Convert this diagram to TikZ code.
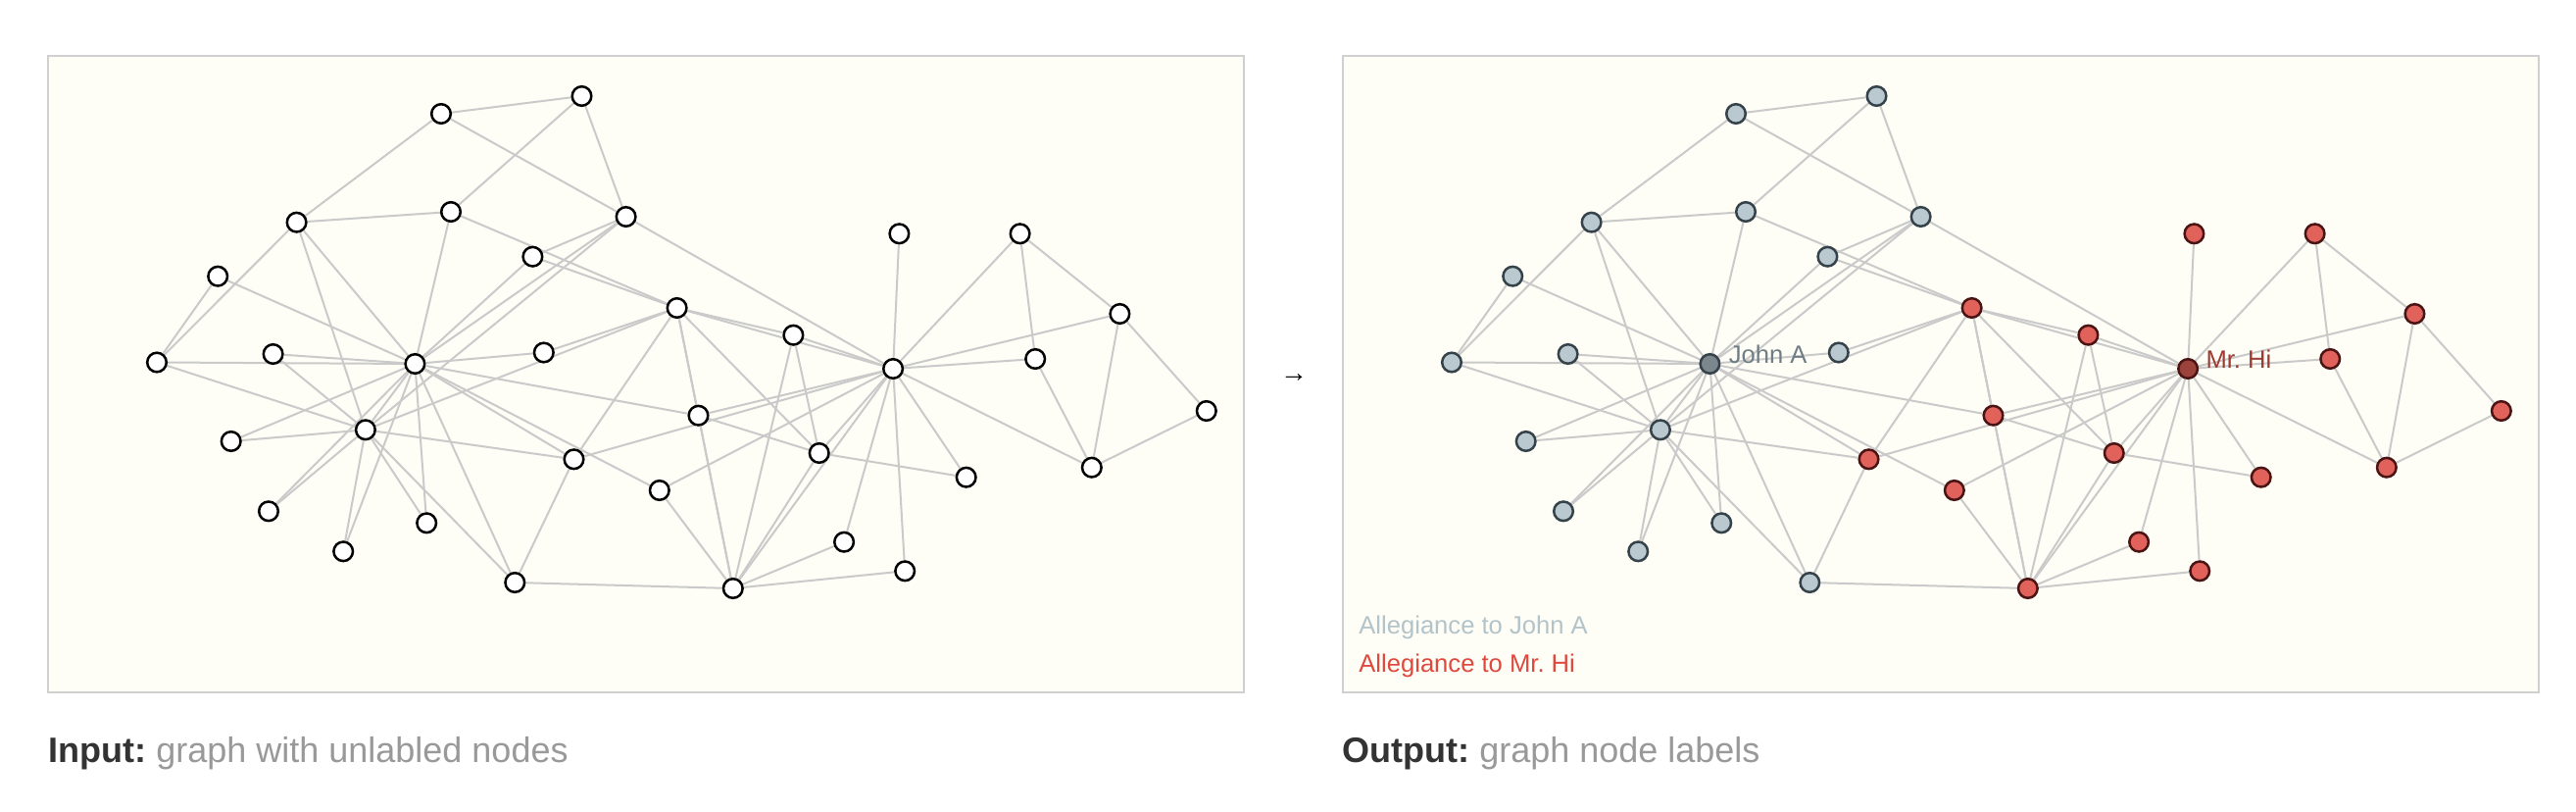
\documentclass[tikz,border=0pt]{standalone}
\usepackage{fontspec}
\setmainfont{Liberation Sans}
\usetikzlibrary{backgrounds}
\frenchspacing
\definecolor{panelbg}{RGB}{254,254,246}
\definecolor{panelline}{RGB}{208,208,208}
\definecolor{edgegray}{RGB}{202,202,202}
\definecolor{johnfill}{RGB}{185,201,207}
\definecolor{johnline}{RGB}{54,66,74}
\definecolor{johnhub}{RGB}{123,135,140}
\definecolor{johntext}{RGB}{111,125,132}
\definecolor{hifill}{RGB}{224,98,90}
\definecolor{hiline}{RGB}{74,20,20}
\definecolor{hihub}{RGB}{155,67,59}
\definecolor{hitext}{RGB}{155,59,51}
\definecolor{legjohn}{RGB}{179,195,202}
\definecolor{leghi}{RGB}{224,72,62}
\definecolor{capdark}{RGB}{51,51,51}
\definecolor{capgray}{RGB}{153,153,153}
\tikzset{
  vtx/.style={circle, inner sep=0pt, minimum size=9.8pt, line width=1.25pt, draw=black, fill=white},
  john/.style={vtx, draw=johnline, fill=johnfill},
  hi/.style={vtx, draw=hiline, fill=hifill},
  link/.style={draw=edgegray, line width=1pt},
  panel/.style={draw=panelline, fill=panelbg, line width=1.2pt},
  lbl/.style={anchor=base west, inner sep=0pt, font=\fontsize{12.8}{15}\selectfont},
  caption/.style={anchor=base west, inner sep=0pt, font=\fontsize{18}{21}\selectfont}
}
\begin{document}
\begin{tikzpicture}[x=0.5pt, y=-0.5pt]
\useasboundingbox (0,0) rectangle (2628,828);
\begin{scope}[on background layer]
\fill[white] (0,0) rectangle (2628,828);
\path[panel] (49,57) rectangle (1269,706);
\path[panel] (1370,57) rectangle (2590,706);
\end{scope}

% input graph
\node[vtx] (in1) at (911.1,376){};
\node[vtx] (in2) at (747.8,600){};
\node[vtx] (in3) at (690.6,314){};
\node[vtx] (in4) at (835.7,462){};
\node[vtx] (in5) at (1040.6,238.3){};
\node[vtx] (in6) at (1113.8,476.7){};
\node[vtx] (in7) at (1142.4,320){};
\node[vtx] (in8) at (809.4,341.7){};
\node[vtx] (in9) at (585.5,468.3){};
\node[vtx] (in10) at (554.8,359.5){};
\node[vtx] (in11) at (1056.2,366){};
\node[vtx] (in12) at (917.4,238.3){};
\node[vtx] (in13) at (985.7,486.7){};
\node[vtx] (in14) at (712.5,423.7){};
\node[vtx] (in15) at (278.6,361){};
\node[vtx] (in16) at (235.7,450){};
\node[vtx] (in17) at (1230.8,419){};
\node[vtx] (in18) at (861.1,552.7){};
\node[vtx] (in19) at (274,521.3){};
\node[vtx] (in20) at (672.8,500){};
\node[vtx] (in21) at (350.2,562.3){};
\node[vtx] (in22) at (923.2,582.3){};
\node[vtx] (in23) at (435.2,533.3){};
\node[vtx] (in24) at (302.6,226.7){};
\node[vtx] (in25) at (593.5,98){};
\node[vtx] (in26) at (450,116){};
\node[vtx] (in27) at (222.2,281.7){};
\node[vtx] (in28) at (460,216){};
\node[vtx] (in29) at (543.4,261.7){};
\node[vtx] (in30) at (160,369.5){};
\node[vtx] (in31) at (525.3,594){};
\node[vtx] (in32) at (638.6,221){};
\node[vtx] (in33) at (372.9,438.3){};
\node[vtx] (in34) at (423.4,371){};

% output graph
\node[hi, fill=hihub] (out1) at (2232.1,376){};
\node[hi] (out2) at (2068.8,600){};
\node[hi] (out3) at (2011.6,314){};
\node[hi] (out4) at (2156.7,462){};
\node[hi] (out5) at (2361.6,238.3){};
\node[hi] (out6) at (2434.8,476.7){};
\node[hi] (out7) at (2463.4,320){};
\node[hi] (out8) at (2130.4,341.7){};
\node[hi] (out9) at (1906.5,468.3){};
\node[john] (out10) at (1875.8,359.5){};
\node[hi] (out11) at (2377.2,366){};
\node[hi] (out12) at (2238.4,238.3){};
\node[hi] (out13) at (2306.7,486.7){};
\node[hi] (out14) at (2033.5,423.7){};
\node[john] (out15) at (1599.6,361){};
\node[john] (out16) at (1556.7,450){};
\node[hi] (out17) at (2551.8,419){};
\node[hi] (out18) at (2182.1,552.7){};
\node[john] (out19) at (1595,521.3){};
\node[hi] (out20) at (1993.8,500){};
\node[john] (out21) at (1671.2,562.3){};
\node[hi] (out22) at (2244.2,582.3){};
\node[john] (out23) at (1756.2,533.3){};
\node[john] (out24) at (1623.6,226.7){};
\node[john] (out25) at (1914.5,98){};
\node[john] (out26) at (1771,116){};
\node[john] (out27) at (1543.2,281.7){};
\node[john] (out28) at (1781,216){};
\node[john] (out29) at (1864.4,261.7){};
\node[john] (out30) at (1481,369.5){};
\node[john] (out31) at (1846.3,594){};
\node[john] (out32) at (1959.6,221){};
\node[john] (out33) at (1693.9,438.3){};
\node[john, fill=johnhub] (out34) at (1744.4,371){};

\node[lbl, text=johntext] (namejohn) at ([xshift=9.5pt]out34.center) {John A};
\node[lbl, text=hitext] (namehi) at ([xshift=9pt]out1.center) {Mr. Hi};
\node[lbl, text=legjohn] (legjohn) at (1386,646.7) {Allegiance to John A};
\node[lbl, text=leghi] (leghi) at (1386,685) {Allegiance to Mr. Hi};

\node[font=\fontsize{14}{16}\selectfont, inner sep=0pt] (arrow) at (1320,386) {→};
\node[caption] (capin) at (49,777.3) {\textcolor{capdark}{\bfseries Input:} \textcolor{capgray}{graph with unlabled nodes}};
\node[caption] (capout) at (1369,777.3) {\textcolor{capdark}{\bfseries Output:} \textcolor{capgray}{graph node labels}};

\begin{scope}[on background layer]
\foreach \g in {in,out}{
\draw[link](\g1) -- (\g2);
\draw[link](\g1) -- (\g3);
\draw[link](\g1) -- (\g4);
\draw[link](\g1) -- (\g5);
\draw[link](\g1) -- (\g6);
\draw[link](\g1) -- (\g7);
\draw[link](\g1) -- (\g8);
\draw[link](\g1) -- (\g9);
\draw[link](\g1) -- (\g11);
\draw[link](\g1) -- (\g12);
\draw[link](\g1) -- (\g13);
\draw[link](\g1) -- (\g14);
\draw[link](\g1) -- (\g18);
\draw[link](\g1) -- (\g20);
\draw[link](\g1) -- (\g22);
\draw[link](\g1) -- (\g32);
\draw[link](\g2) -- (\g3);
\draw[link](\g2) -- (\g4);
\draw[link](\g2) -- (\g8);
\draw[link](\g2) -- (\g14);
\draw[link](\g2) -- (\g18);
\draw[link](\g2) -- (\g20);
\draw[link](\g2) -- (\g22);
\draw[link](\g2) -- (\g31);
\draw[link](\g3) -- (\g4);
\draw[link](\g3) -- (\g8);
\draw[link](\g3) -- (\g9);
\draw[link](\g3) -- (\g10);
\draw[link](\g3) -- (\g14);
\draw[link](\g3) -- (\g28);
\draw[link](\g3) -- (\g29);
\draw[link](\g3) -- (\g33);
\draw[link](\g4) -- (\g8);
\draw[link](\g4) -- (\g13);
\draw[link](\g4) -- (\g14);
\draw[link](\g5) -- (\g7);
\draw[link](\g5) -- (\g11);
\draw[link](\g6) -- (\g7);
\draw[link](\g6) -- (\g11);
\draw[link](\g6) -- (\g17);
\draw[link](\g7) -- (\g17);
\draw[link](\g9) -- (\g31);
\draw[link](\g9) -- (\g33);
\draw[link](\g9) -- (\g34);
\draw[link](\g10) -- (\g34);
\draw[link](\g14) -- (\g34);
\draw[link](\g15) -- (\g33);
\draw[link](\g15) -- (\g34);
\draw[link](\g16) -- (\g33);
\draw[link](\g16) -- (\g34);
\draw[link](\g19) -- (\g33);
\draw[link](\g19) -- (\g34);
\draw[link](\g20) -- (\g34);
\draw[link](\g21) -- (\g33);
\draw[link](\g21) -- (\g34);
\draw[link](\g23) -- (\g33);
\draw[link](\g23) -- (\g34);
\draw[link](\g24) -- (\g26);
\draw[link](\g24) -- (\g28);
\draw[link](\g24) -- (\g30);
\draw[link](\g24) -- (\g33);
\draw[link](\g24) -- (\g34);
\draw[link](\g25) -- (\g26);
\draw[link](\g25) -- (\g28);
\draw[link](\g25) -- (\g32);
\draw[link](\g26) -- (\g32);
\draw[link](\g27) -- (\g30);
\draw[link](\g27) -- (\g34);
\draw[link](\g28) -- (\g34);
\draw[link](\g29) -- (\g32);
\draw[link](\g29) -- (\g34);
\draw[link](\g30) -- (\g33);
\draw[link](\g30) -- (\g34);
\draw[link](\g31) -- (\g33);
\draw[link](\g31) -- (\g34);
\draw[link](\g32) -- (\g33);
\draw[link](\g32) -- (\g34);
\draw[link](\g33) -- (\g34);
}
\end{scope}

\end{tikzpicture}
\end{document}
